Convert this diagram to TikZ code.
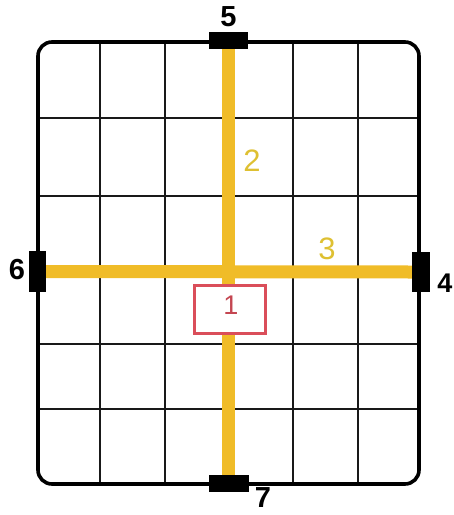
\documentclass[tikz,border=0pt]{standalone}
\usepackage{fontspec}
\setmainfont{Liberation Sans}
\definecolor{trackyellow}{RGB}{240,188,40}
\definecolor{labelyellow}{RGB}{222,192,50}
\definecolor{boxred}{RGB}{218,78,90}
\begin{document}
\begin{tikzpicture}[x=1pt,y=-1pt,
  gridline/.style={line width=1.3pt,black!90},
  framebox/.style={line width=3.6pt,rounded corners=14pt},
  track/.style={line width=13pt,draw=trackyellow},
  port/.style={fill=black,draw=none,inner sep=0pt},
  portlabel/.style={inner sep=0pt,font=\fontsize{29}{29}\selectfont\bfseries},
  tracklabel/.style={inner sep=0pt,text=labelyellow,font=\fontsize{31}{31}\selectfont},
  markbox/.style={draw=boxred,line width=2.6pt,fill=white,inner sep=0pt,minimum width=71pt,minimum height=48pt}]
\useasboundingbox (0,0) rectangle (454,515);
% grid
\foreach \gx in {100,165,229,293,358} \draw[gridline] (\gx,42) -- (\gx,484);
\foreach \gy in {118,196,272,344,409} \draw[gridline] (38,\gy) -- (419,\gy);
% frame
\draw[framebox] (38,42) rectangle (419,484);
% ports
\node[port,minimum width=39pt,minimum height=17pt] (p5) at (228.5,40.5) {};
\node[port,minimum width=40pt,minimum height=17pt] (p7) at (228.5,483.5) {};
\node[port,minimum width=17pt,minimum height=41pt] (p6) at (37.5,271.5) {};
\node[port,minimum width=18pt,minimum height=40pt] (p4) at (421,272) {};
% tracks
\draw[track] (p5.south) -- (p7.north);
\draw[track] (p6.east) -- (p4.west);
% marked box
\node[markbox] (b1) at (230,309.5) {};
\node[inner sep=0pt,text=boxred!90!black,font=\fontsize{27}{27}\selectfont] (l1) at (231,305) {1};
% redraw ports on top
\node[port,minimum width=39pt,minimum height=17pt] at (p5) {};
\node[port,minimum width=40pt,minimum height=17pt] at (p7) {};
\node[port,minimum width=17pt,minimum height=41pt] at (p6) {};
\node[port,minimum width=18pt,minimum height=40pt] at (p4) {};
% labels
\node[portlabel] (l5) at (228.5,17) {5};
\node[portlabel] (l6) at (17,270) {6};
\node[portlabel,font=\fontsize{27}{27}\selectfont\bfseries] (l4) at (445,283) {4};
\node[portlabel,font=\fontsize{29}{29}\selectfont\bfseries] (l7) at (263,498) {7};
\node[tracklabel] (l2) at (252,160.5) {2};
\node[tracklabel] (l3) at (327,249) {3};
\end{tikzpicture}
\end{document}
